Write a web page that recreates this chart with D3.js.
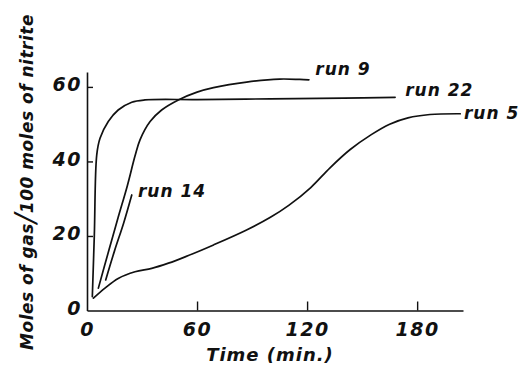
<!DOCTYPE html>
<html><head><meta charset="utf-8">
<script src="https://cdn.jsdelivr.net/npm/d3@7"></script>
<style>
html,body{margin:0;padding:0;background:#fff;}
svg{display:block;}
text{font-family:"DejaVu Sans",sans-serif;font-style:italic;font-weight:bold;fill:#111;}
</style></head>
<body>
<svg id="c" width="522" height="367"></svg>
<script>
// Data (time in min, moles of gas per 100 moles of nitrite)
const run22T = [2.9, 4, 5.3, 7.1, 11.6, 17, 24.4, 31.6, 60, 100, 140, 168];
const run22V = [3.7, 20.3, 41.7, 46.2, 50.7, 53.8, 55.9, 56.5, 56.6, 56.8, 57.0, 57.2];
const run9T  = [6.2, 12, 17, 22, 26.2, 28.9, 34.4, 40.7, 49.8, 60, 69, 87, 105, 116, 121];
const run9V  = [6, 16.3, 25, 33.5, 41.5, 45.8, 50.7, 53.8, 56.5, 58.6, 59.8, 61.3, 62.1, 62.0, 61.9];
const run14T = [10.2, 15, 20, 24.4];
const run14V = [8.2, 16, 23.5, 31];
const run5T  = [3.5, 9.8, 17, 26.2, 35.3, 44.4, 53.5, 69, 87, 100, 110, 122, 132.5, 143.5, 155, 165, 175, 187, 203.5];
const run5V  = [3.3, 6, 8.6, 10.4, 11.3, 12.7, 14.4, 17.6, 21.6, 25, 28.2, 33, 38.3, 43.2, 47.2, 50, 51.7, 52.6, 52.8];
const labelText = ["run 9", "run 22", "run 5", "run 14"];
const labelT = [124.5, 173.5, 205.5, 27.8];
const labelV = [63.2, 57.6, 51.3, 30.4];
const xTicks = [0, 60, 120, 180];
const yTicks = [0, 20, 40, 60];
const xTitle = "Time (min.)";
const yTitleA = "Moles of gas";
const yTitleB = "100 moles of nitrite";

const svg = d3.select("#c");
const x = d3.scaleLinear().domain([0, 205]).range([87, 463]);
const y = d3.scaleLinear().domain([0, 64]).range([310.5, 72]);

const xAxis = d3.axisBottom(x).tickValues(xTicks).tickFormat(d3.format("d"))
  .tickSizeInner(-9).tickSizeOuter(0).tickPadding(12);
const yAxis = d3.axisLeft(y).tickValues(yTicks).tickFormat(d3.format("d"))
  .tickSizeInner(-6).tickSizeOuter(0).tickPadding(5);

const gx = svg.append("g").attr("transform", "translate(0,310.5)").call(xAxis);
const gy = svg.append("g").attr("transform", "translate(87,0)").call(yAxis);
[gx, gy].forEach(g => {
  g.select(".domain").attr("stroke", "#111").attr("stroke-width", 1.6);
  g.selectAll(".tick line").attr("stroke", "#111").attr("stroke-width", 1.4);
  g.selectAll(".tick text").style("font-family", "DejaVu Sans").style("font-style", "italic")
    .style("font-weight", "bold").style("font-size", "19px").style("letter-spacing", "1.5px").attr("fill", "#111");
});
gx.selectAll(".tick text").attr("dy", "0.71em");
gx.selectAll(".tick").filter(d => d === 0).select("line").remove();
gy.selectAll(".tick").filter(d => d === 0).select("line").remove();
gy.selectAll(".tick text").attr("dy", "0.2em");

const line = d3.line().x(d => x(d[0])).y(d => y(d[1])).curve(d3.curveCatmullRom.alpha(0.5));
const series = [[run22T, run22V], [run9T, run9V], [run14T, run14V], [run5T, run5V]];
series.forEach(([T, V]) => {
  svg.append("path").datum(T.map((t, i) => [t, V[i]]))
    .attr("d", line).attr("fill", "none").attr("stroke", "#111")
    .attr("stroke-width", 1.7).attr("stroke-linejoin", "round").attr("stroke-linecap", "round");
});

labelText.forEach((s, i) => {
  svg.append("text").attr("x", x(labelT[i])).attr("y", y(labelV[i]))
    .style("font-size", "17px").style("letter-spacing", "1px").text(s);
});

svg.append("text").attr("x", 270).attr("y", 361).attr("text-anchor", "middle")
  .style("font-size", "18px").style("letter-spacing", "1px").text(xTitle);

const yt = svg.append("text").attr("transform", "translate(33,182) rotate(-90)")
  .attr("text-anchor", "middle").style("font-size", "17px").style("letter-spacing", "0.5px");
yt.append("tspan").text(yTitleA);
yt.append("tspan").style("font-size", "28px").style("font-weight", "normal").attr("dy", "2").text("/");
yt.append("tspan").attr("dy", "-2").text(yTitleB);
</script>
</body></html>
